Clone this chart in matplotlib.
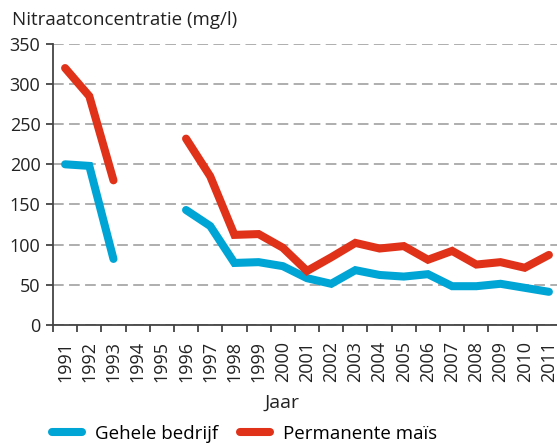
import numpy as np
import matplotlib
matplotlib.use("Agg")
import matplotlib.pyplot as plt
from matplotlib.lines import Line2D

years = [str(y) for y in range(1991, 2012)]
gehele_bedrijf = [200, 198, 82, np.nan, np.nan, 143, 123, 77, 78, 73, 58, 51, 68, 62, 60, 63, 48, 48, 51, 46, 41]
permanente_mais = [320, 285, 180, np.nan, np.nan, 232, 185, 112, 113, 96, 67, 84, 102, 95, 98, 81, 92, 75, 78, 71, 87]
yticks = [0, 50, 100, 150, 200, 250, 300, 350]

blue = "#00A5D5"
red = "#E03119"
plt.rcParams['font.family'] = ['Open Sans', 'DejaVu Sans']

fig = plt.figure(figsize=(5.57, 4.43), dpi=100)
ax = fig.add_axes([53/557, (443-324.7)/443, (561-53)/557, (324.7-44)/443])

x = np.arange(len(years))
ax.plot(x, gehele_bedrijf, color=blue, lw=5.8, solid_capstyle='round', solid_joinstyle='miter', zorder=3)
ax.plot(x, permanente_mais, color=red, lw=5.8, solid_capstyle='round', solid_joinstyle='miter', zorder=3)

ax.set_xlim(-0.5, len(years) - 0.5)
ax.set_ylim(0, 350)
ax.set_yticks(yticks)
ax.set_yticklabels([str(v) for v in yticks], fontsize=13, color="#222222")
ax.set_xticks(x)
ax.set_xticklabels(years, rotation=90, fontsize=13, color="#222222")
ax.set_xticks(np.arange(len(years) + 1) - 0.5, minor=True)
ax.tick_params(axis='x', which='major', length=0, pad=12)
ax.tick_params(axis='x', which='minor', length=5, width=1.3, color="#444444", direction='out')
ax.tick_params(axis='y', length=5, width=1.3, color="#444444", pad=4)

for s in ['top', 'right']:
    ax.spines[s].set_visible(False)
for s in ['left', 'bottom']:
    ax.spines[s].set_color("#444444")
    ax.spines[s].set_linewidth(1.3)

ax.yaxis.grid(True, color="#999999", lw=1.1, linestyle=(0, (7, 3.5)))
ax.set_axisbelow(True)

fig.text(12/557, 1 - 20/443, "Nitraatconcentratie (mg/l)", fontsize=13.5, color="#222222", va='center', ha='left')
fig.text(282/557, 1 - 403/443, "Jaar", fontsize=14, color="#222222", va='center', ha='center')

handles = [Line2D([], [], color=blue, lw=5.8, solid_capstyle='round'),
           Line2D([], [], color=red, lw=5.8, solid_capstyle='round')]
fig.legend(handles, ["Gehele bedrijf", "Permanente maïs"], loc='center left',
           bbox_to_anchor=(52/557, 1 - 434/443), ncol=2, frameon=False,
           fontsize=13.5, handlelength=1.6, handletextpad=0.7, columnspacing=1.15,
           borderpad=0, borderaxespad=0)

fig.savefig("out.png", dpi=100)
